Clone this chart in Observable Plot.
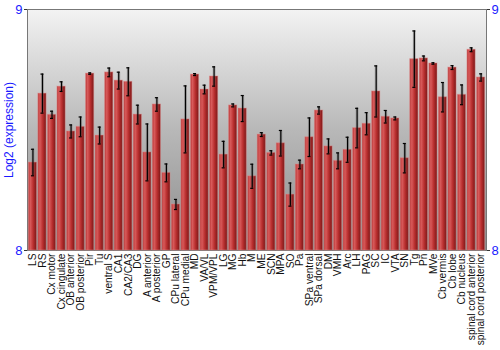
<!DOCTYPE html>
<html>
<head>
<meta charset="utf-8">
<script src="https://cdn.jsdelivr.net/npm/d3@7"></script>
<script src="https://cdn.jsdelivr.net/npm/@observablehq/plot@0.6"></script>
<style>
  html, body { margin: 0; padding: 0; background: #fff; }
</style>
</head>
<body>
<div id="chart"></div>
<script>
const regions = ["LS","RS","Cx motor","Cx cingulate","OB anterior","OB posterior","Pir","Tu","ventral S","CA1","CA2/CA3","DG","A anterior","A posterior","GP","CPu lateral","CPu medial","MD","VA/VL","VPM/VPL","LG","MG","Hb","M","ME","SCN","MPA","SO","Pa","SPa ventral","SPa dorsal","DM","VMH","Arc","LH","PAG","SC","IC","VTA","SN","Tg","Pn","MVe","Cb vermis","Cb lobe","Cb nucleus","spinal cord anterior","spinal cord posterior"];
const expression = [8.365,8.651,8.563,8.680,8.494,8.513,8.734,8.477,8.739,8.705,8.700,8.564,8.407,8.606,8.322,8.191,8.544,8.730,8.668,8.722,8.398,8.602,8.589,8.308,8.481,8.405,8.445,8.232,8.357,8.470,8.581,8.432,8.372,8.418,8.508,8.526,8.660,8.555,8.548,8.383,8.794,8.797,8.776,8.636,8.759,8.646,8.833,8.718];
const errors = [0.055,0.081,0.015,0.020,0.027,0.041,0.003,0.035,0.018,0.035,0.058,0.039,0.118,0.028,0.037,0.021,0.139,0.004,0.018,0.040,0.055,0.006,0.054,0.050,0.008,0.009,0.053,0.048,0.018,0.080,0.015,0.031,0.033,0.052,0.082,0.046,0.106,0.026,0.006,0.061,0.117,0.010,0.003,0.061,0.008,0.041,0.008,0.015];
const yTicks = [8, 9];
const yLabel = "Log2 (expression)";

const data = regions.map((r, i) => ({region: r, value: expression[i], err: errors[i]}));

function defsMark() {
  const ns = "http://www.w3.org/2000/svg";
  const defs = document.createElementNS(ns, "defs");
  defs.innerHTML = `
    <linearGradient id="bgGrad" x1="0" y1="0" x2="0" y2="1">
      <stop offset="0" stop-color="#f3f3f3"/>
      <stop offset="0.5" stop-color="#b8b8b8"/>
      <stop offset="1" stop-color="#8c8c8c"/>
    </linearGradient>
    <linearGradient id="barGrad" x1="0" y1="0" x2="1" y2="0">
      <stop offset="0" stop-color="#b83636"/>
      <stop offset="0.25" stop-color="#d85a5a"/>
      <stop offset="0.6" stop-color="#b82e2e"/>
      <stop offset="1" stop-color="#7a1818"/>
    </linearGradient>`;
  return defs;
}

const chart = Plot.plot({
  width: 500,
  height: 350,
  marginLeft: 27,
  marginRight: 14,
  marginTop: 9,
  marginBottom: 100,
  style: {fontFamily: "'Liberation Sans', Arial, sans-serif", background: "#fff"},
  x: {domain: regions, padding: 0.14, round: false, label: null},
  y: {domain: [8, 9], label: null},
  marks: [
    defsMark,
    Plot.frame({fill: "url(#bgGrad)", stroke: "#777"}),
    Plot.barY(data, {x: "region", y1: 8, y2: "value", fill: "url(#barGrad)", stroke: "#e08c8c", strokeOpacity: 0.45}),
    Plot.ruleX(data, {x: "region", y1: d => d.value - d.err, y2: d => d.value + d.err, stroke: "#666", strokeWidth: 3, strokeOpacity: 0.35}),
    Plot.ruleX(data, {x: "region", y1: d => d.value - d.err, y2: d => d.value + d.err, stroke: "#000", strokeWidth: 1.2}),
    Plot.tickY(data, {x: "region", y: d => d.value + d.err, insetLeft: 2.6, insetRight: 2.6, stroke: "#000", strokeWidth: 1.2}),
    Plot.tickY(data, {x: "region", y: d => d.value - d.err, insetLeft: 2.6, insetRight: 2.6, stroke: "#000", strokeWidth: 1.2}),
    Plot.axisY({anchor: "left", ticks: yTicks, tickFormat: "d", tickSize: 3, tickPadding: 2, stroke: "#333", fill: "#1a1aff", fontSize: 13, label: null}),
    Plot.axisY({anchor: "right", ticks: yTicks, tickFormat: "d", tickSize: 3, tickPadding: 2, stroke: "#333", fill: "#1a1aff", fontSize: 13, label: null}),
    Plot.axisX({anchor: "bottom", tickRotate: -90, tickSize: 0, tickPadding: 3, fontSize: 10.2, fill: "#111", label: null}),
    Plot.text([yLabel], {frameAnchor: "left", dx: -18, rotate: -90, fill: "#1a1aff", fontSize: 12, textAnchor: "middle"})
  ]
});
document.getElementById("chart").appendChild(chart);
</script>
</body>
</html>
